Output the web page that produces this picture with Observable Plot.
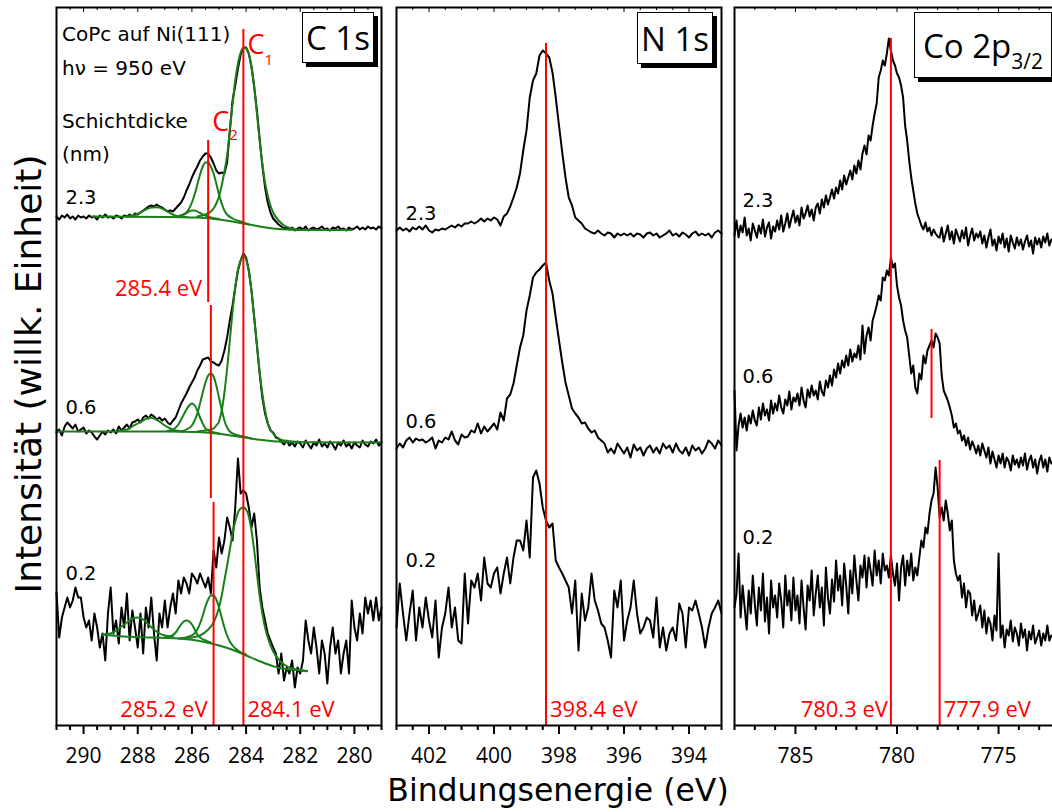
<!DOCTYPE html>
<html lang="de">
<head>
<meta charset="utf-8">
<title>XPS CoPc auf Ni(111)</title>
<script src="https://cdn.jsdelivr.net/npm/d3@7"></script>
<script src="https://cdn.jsdelivr.net/npm/@observablehq/plot@0.6"></script>
<style>
  html, body { margin: 0; padding: 0; background: #fff; }
  #fig { position: relative; width: 1052px; height: 812px; overflow: hidden; background: #fff; }
  #fig svg { position: absolute; top: 0; }
  .box { position: absolute; box-sizing: border-box; background: #fff; border: 1.5px solid #000;
         box-shadow: 4px 4px 0 #000; font-family: "Open Sans", sans-serif; font-size: 33px;
         line-height: 1; display: flex; align-items: center; justify-content: center; white-space: nowrap; }
  .box span { display: inline-block; }
  .box sub { font-size: 21px; vertical-align: -0.5em; line-height: 0; }
</style>
</head>
<body>
<div id="fig"></div>
<script>
const GREEN = "#1a7f1a", RED = "#ff0000";
const STEP = 0.1; // energy step of the scans (eV)

// ---------- C 1s : 291.0 -> 279.0 eV ----------
const c1sStart = 291.0;
const c1s_23 = [
  509,506,510,508,511,507,509,506,510,508,
  509,507,510,508,509,506,510,508,511,508,
  509,507,510,509,507,510,509,511,509,512,
  511,513,515,517,519,520,519,521,519,518,
  516,514,515,514,517,520,523,528,535,541,
  548,554,559,565,569,572,572,568,562,555,
  552,553,552,563,595,625,640,657,671,678,
  678,672,659,639,615,587,560,538,523,513,
  507,504,501,499,497,498,496,498,495,497,
  498,496,499,495,497,498,496,497,499,496,
  497,495,498,497,499,496,497,495,498,496,
  497,499,496,498,496,499,497,498,496,499,
  497];
const c1s_06 = [
  293,296,290,299,303,300,297,301,294,296,
  298,292,295,293,289,286,290,294,291,295,
  293,296,292,299,295,298,301,297,303,304,
  306,303,308,310,307,311,309,306,308,305,
  307,303,301,305,308,315,322,327,332,338,
  343,348,355,360,366,367,368,364,363,361,
  360,365,375,388,405,420,438,455,465,472,
  468,455,435,408,380,352,328,312,302,295,
  293,288,287,284,281,285,280,283,279,284,
  282,278,285,281,277,283,280,286,279,282,
  278,284,281,276,283,280,285,279,282,277,
  283,280,278,285,281,279,284,282,286,280,
  283];
const c1s_02 = [
  133,88,108,118,128,118,125,138,128,128,
  108,98,105,85,112,98,78,92,65,112,
  138,92,105,82,118,98,132,85,115,98,
  78,112,72,118,98,128,92,65,112,98,
  125,98,118,132,112,145,132,148,142,132,
  152,148,142,152,145,138,148,132,175,158,
  188,172,185,208,198,185,218,267,232,235,
  232,218,198,212,185,138,118,105,92,85,
  78,72,52,72,45,58,52,65,38,58,
  52,65,105,85,72,98,78,52,85,72,
  42,78,98,72,85,52,72,85,52,125,
  98,85,112,92,128,112,125,105,128,105,
  118];

// C 1s fit: background and components, [eV, intensity]
const fit23Bg = [[289.7,509],[287.0,508.5],[286.0,508],[285.5,507.5],[285.0,506],[284.5,504],[284.0,501.5],[283.5,499],[283.0,497],[282.5,496],[282.0,495.5],[280.1,495.5]];
const fit23C1 = [[285.8,509],[285.5,511],[285.3,514],[285.2,517],[285.1,522],[285.0,529],[284.9,540],[284.8,554],[284.7,570],[284.6,595],[284.5,621],[284.4,645],[284.3,662],[284.2,673],[284.1,678],[284.0,677],[283.9,672],[283.8,658],[283.7,638],[283.6,612],[283.5,585],[283.4,562],[283.3,543],[283.2,530],[283.1,520],[283.0,513],[282.8,505],[282.6,500],[282.3,497],[282.0,495.7]];
const fit23C2 = [[286.6,509],[286.4,510],[286.2,513],[286.1,517],[286.0,523],[285.9,531],[285.8,541],[285.7,551],[285.6,559],[285.5,563],[285.4,563],[285.3,559],[285.2,552],[285.1,542],[285.0,531],[284.9,522],[284.8,515],[284.7,511],[284.5,507],[284.2,504],[283.9,501]];
const fit23C3 = [[286.6,508.5],[286.4,510],[286.2,512.5],[286.0,515],[285.9,515],[285.7,512.5],[285.5,510],[285.3,508],[285.0,506.5]];
const fit23C4 = [[288.4,509],[288.1,510.5],[287.9,513],[287.7,516],[287.5,518],[287.3,518.3],[287.1,517],[286.9,514],[286.7,511],[286.5,509],[286.2,508.5]];

const fit06Bg = [[291.0,294],[287.0,294],[286.0,293.5],[285.5,293],[285.0,291.7],[284.5,289.7],[284.0,287.7],[283.5,285.7],[283.0,284.3],[282.5,283.7],[282.0,283.3],[279.0,283]];
const fit06C1 = [[285.8,294],[285.5,295],[285.3,296],[285.2,297],[285.1,300],[285.0,304],[284.9,315],[284.8,333],[284.7,357],[284.6,385],[284.5,414],[284.4,438],[284.3,456],[284.2,465],[284.1,470],[284.0,466],[283.9,455],[283.8,434],[283.7,408],[283.6,381],[283.5,354],[283.4,332],[283.3,315],[283.2,303],[283.1,296],[283.0,292],[282.8,287],[282.6,285],[282.3,284],[282.0,283.5]];
const fit06C2 = [[286.4,294],[286.2,296],[286.0,300],[285.9,305],[285.8,312],[285.7,322],[285.6,333],[285.5,343],[285.4,350],[285.3,352],[285.2,349],[285.1,340],[285.0,328],[284.9,316],[284.8,305],[284.7,298],[284.6,294],[284.4,291],[284.1,289],[283.8,287]];
const fit06C3 = [[286.9,294.5],[286.7,296],[286.5,301],[286.4,306],[286.3,311],[286.2,316],[286.1,320],[286.0,322],[285.9,320],[285.8,315],[285.7,308],[285.6,302],[285.5,297],[285.3,294],[285.0,292]];
const fit06C4 = [[288.7,294.5],[288.4,296],[288.2,299],[288.0,302],[287.8,305],[287.6,307.5],[287.5,307.7],[287.4,307],[287.2,304],[287.0,300],[286.8,297],[286.6,295],[286.3,294]];

const fit02Bg = [[289.3,90.7],[288.5,89],[287.5,88],[286.5,87],[286.0,85.7],[285.5,83.3],[285.0,80],[284.5,75.7],[284.0,70],[283.5,64.3],[283.0,59.3],[282.5,56.3],[282.0,55],[281.75,54.3]];
const fit02C1 = [[286.5,87],[286.0,88],[285.7,90],[285.4,96],[285.2,103],[285.0,118],[284.9,130],[284.8,145],[284.7,160],[284.6,176],[284.5,192],[284.4,204],[284.3,213],[284.2,217],[284.1,218],[284.0,216],[283.9,209],[283.8,195],[283.7,175],[283.6,152],[283.5,130],[283.4,112],[283.3,98],[283.2,88],[283.0,74],[282.8,66],[282.6,61],[282.3,57],[282.0,55.5],[281.75,54.5]];
const fit02C2 = [[286.4,87],[286.1,89],[285.9,92],[285.8,96],[285.7,102],[285.6,110],[285.5,119],[285.4,126],[285.3,130],[285.2,130],[285.1,126],[285.0,118],[284.9,108],[284.8,98],[284.7,90],[284.6,84],[284.5,80],[284.3,75],[284.0,71]];
const fit02C3 = [[287.0,88],[286.8,89],[286.6,93],[286.5,97],[286.4,101],[286.3,104],[286.2,105],[286.1,104],[286.0,101],[285.9,96],[285.8,91],[285.7,88],[285.5,85],[285.3,83]];
const fit02C4 = [[289.3,91],[289.0,92],[288.8,95],[288.6,99],[288.4,103],[288.2,107],[288.0,108],[287.8,106],[287.6,101],[287.4,96],[287.2,92],[287.0,90],[286.7,89]];

// ---------- N 1s : 403.0 -> 393.0 eV ----------
const n1sStart = 403.0;
const n1s_23 = [
  495,498,495,497,494,498,496,499,496,500,
  495,493,496,495,497,496,498,500,498,501,
  499,502,502,504,502,504,507,504,507,505,
  508,506,500,509,512,519,528,538,552,575,
  595,628,645,652,670,675,672,668,653,628,
  600,573,548,528,520,508,505,502,497,495,
  493,492,495,492,490,493,492,488,492,490,
  492,490,492,489,492,491,488,492,493,490,
  492,488,490,492,495,490,492,489,493,491,
  488,492,494,490,492,490,492,488,493,495,
  492];
const n1s_06 = [
  277,282,278,285,288,283,287,285,286,283,
  285,288,277,285,283,288,286,294,285,281,
  291,288,289,295,293,302,292,299,294,298,
  302,296,313,305,327,331,342,360,378,390,
  415,430,448,453,456,460,463,445,432,408,
  385,363,343,330,317,312,308,302,303,297,
  293,295,288,285,282,273,277,272,282,277,
  272,278,268,281,275,278,270,277,280,273,
  278,272,282,277,280,273,282,275,272,278,
  270,280,275,278,272,277,285,282,277,285,
  280];
const n1s_02 = [
  98,142,112,85,112,135,85,118,98,128,
  105,88,125,68,98,112,138,98,118,85,
  82,152,102,145,138,152,125,168,142,138,
  152,158,132,152,168,142,168,185,185,175,
  205,168,248,255,242,218,205,198,202,165,
  158,152,145,138,112,145,75,132,105,118,
  152,125,115,102,98,85,68,135,118,145,
  85,105,118,145,112,92,98,108,105,88,
  128,78,98,75,92,98,85,122,112,78,
  118,115,125,112,98,78,98,112,118,125,
  112];

// ---------- Co 2p3/2 : 788.0 -> 772.4 eV ----------
const coStart = 788.0;
const co_23 = [
  490,505,488,500,493,508,490,497,485,502,495,
  488,500,492,506,489,498,503,487,499,494,
  505,496,510,494,502,512,498,507,515,503,
  510,500,518,507,512,520,509,516,505,518,
  522,512,526,518,530,521,528,536,527,538,
  532,545,536,550,541,548,555,546,560,552,
  565,556,572,580,571,590,585,600,612,622,
  648,655,665,660,672,687,675,665,660,652,
  648,640,628,600,585,565,548,535,522,512,
  506,500,496,503,494,498,490,496,492,489,
  488,498,484,492,500,486,494,482,496,490,
  484,495,487,498,480,490,497,485,492,488,
  494,482,490,478,488,496,480,486,475,489,
  482,492,478,487,474,490,483,477,488,480,
  486,476,484,490,479,485,472,488,481,487,
  478,489,483,492,480,486];
const co_06 = [
  335,275,300,312,298,308,295,310,302,315,305,
  300,318,306,322,310,316,305,325,312,322,
  315,330,318,312,326,320,334,316,328,324,
  332,320,338,325,318,336,328,340,330,335,
  326,344,334,330,345,338,350,340,356,348,
  362,352,365,358,370,360,376,364,372,368,
  380,366,400,372,390,398,385,405,412,420,
  430,425,448,445,455,450,468,458,462,440,
  428,420,405,395,388,370,352,360,338,332,
  352,346,370,362,375,380,385,378,392,388,
  382,350,335,330,325,318,310,298,302,292,
  295,285,290,280,288,276,284,279,272,280,
  270,282,275,268,278,262,274,266,258,270,
  262,272,258,268,264,255,270,261,266,258,
  268,260,272,256,265,270,258,266,252,264,
  270,258,266,254,268,262];
const co_02 = [
  118,132,172,108,140,118,96,135,112,150,122,
  100,138,115,152,104,128,92,145,118,130,
  108,142,125,98,150,120,135,105,148,115,
  130,102,145,118,96,140,125,155,110,132,
  150,118,138,100,158,128,112,146,124,165,
  135,150,120,162,140,112,155,132,170,145,
  125,160,148,170,138,168,155,140,175,150,
  165,142,172,155,160,148,170,152,140,162,
  125,158,170,140,165,150,172,145,158,150,
  168,185,178,198,192,212,225,232,258,238,
  208,218,205,225,212,195,205,165,152,145,
  150,128,142,118,135,132,110,125,105,112,
  120,98,115,92,108,102,85,110,95,172,
  88,100,78,96,90,105,84,98,92,80,
  102,88,96,75,94,86,100,82,88,95,
  80,92,85,100,85,90];

// ---------- axes ----------
const c1sMajor = [290, 288, 286, 284, 282, 280];
const c1sMinor = [291, 290.5, 289.5, 289, 288.5, 287.5, 287, 286.5, 285.5, 285, 284.5, 283.5, 283, 282.5, 281.5, 281, 280.5, 279.5, 279];
const n1sMajor = [402, 400, 398, 396, 394];
const n1sMinor = [403, 402.5, 401.5, 401, 400.5, 399.5, 399, 398.5, 397.5, 397, 396.5, 395.5, 395, 394.5, 393.5, 393];
const coMajor = [785, 780, 775];
const coMinor = [788, 787, 786, 784, 783, 782, 781, 779, 778, 777, 776, 774, 773, 772];

const thickness = ["2.3", "0.6", "0.2"];

// ---------- helpers ----------
function scan(start, values, name) {
  return values.map((v, k) => ({e: +(start - k * STEP).toFixed(2), i: v, name}));
}
function pts(pairs, name) {
  return pairs.map(([e, i]) => ({e, i, name}));
}

const fig = document.getElementById("fig");
const W = 325, ML = 30, MR = 30, MT = 7, MB = 87, H = 718;

function panel(cfg) {
  const svg = Plot.plot({
    width: W + ML + MR, height: MT + H + MB,
    marginLeft: ML, marginRight: MR, marginTop: MT, marginBottom: MB,
    style: {fontFamily: "'Open Sans'", fontSize: "21px", background: "transparent", overflow: "visible", color: "#000"},
    x: {domain: cfg.domain, ticks: cfg.major, tickSize: 0, tickPadding: 23, tickFormat: d => String(d), label: null},
    y: {domain: [0, H], axis: null},
    marks: [
      Plot.ruleX(cfg.minor, {y1: 0, y2: -5, strokeWidth: 2}),
      Plot.ruleX(cfg.major, {y1: 0, y2: -9, strokeWidth: 2}),
      Plot.ruleX(cfg.minor, {y1: H, y2: H - 3, strokeWidth: 1}),
      Plot.ruleX(cfg.major, {y1: H, y2: H - 5, strokeWidth: 1}),
      Plot.line(cfg.spectra, {x: "e", y: "i", z: "name", stroke: "#000", strokeWidth: 2, strokeLinejoin: "round"}),
      Plot.line(cfg.fits || [], {x: "e", y: "i", z: "name", stroke: GREEN, strokeWidth: 2, curve: "monotone-x"}),
      Plot.ruleX(cfg.rules, {x: "e", y1: "i1", y2: "i2", stroke: RED, strokeWidth: 2}),
      Plot.text(cfg.values.filter(d => d.side === "end"), {x: "e", y: "i", text: "t", textAnchor: "end", dx: cfg.endDx, fill: RED, fontSize: 22}),
      Plot.text(cfg.values.filter(d => d.side === "start"), {x: "e", y: "i", text: "t", textAnchor: "start", dx: 4, fill: RED, fontSize: 22}),
      ...(cfg.extra || []),
      Plot.text(cfg.layers, {y: "i", text: "t", frameAnchor: "left", dx: cfg.layerDx, textAnchor: "start", fontFamily: "'DejaVu Sans'", fontSize: 19.5}),
      Plot.frame({strokeWidth: 2})
    ]
  });
  svg.style.left = (cfg.left - ML) + "px";
  fig.append(svg);
}

// C 1s
panel({
  left: 56, domain: [291, 279], major: c1sMajor, minor: c1sMinor,
  spectra: [...scan(c1sStart, c1s_23, "2.3"), ...scan(c1sStart, c1s_06, "0.6"), ...scan(c1sStart, c1s_02, "0.2")],
  fits: [
    ...pts(fit23Bg, "23bg"), ...pts(fit23C4, "23c4"), ...pts(fit23C3, "23c3"), ...pts(fit23C2, "23c2"), ...pts(fit23C1, "23c1"),
    ...pts(fit06Bg, "06bg"), ...pts(fit06C4, "06c4"), ...pts(fit06C3, "06c3"), ...pts(fit06C2, "06c2"), ...pts(fit06C1, "06c1"),
    ...pts(fit02Bg, "02bg"), ...pts(fit02C4, "02c4"), ...pts(fit02C3, "02c3"), ...pts(fit02C2, "02c2"), ...pts(fit02C1, "02c1")
  ],
  rules: [{e: 284.1, i1: 696, i2: 0}, {e: 285.4, i1: 585, i2: 423}, {e: 285.3, i1: 420, i2: 227}, {e: 285.2, i1: 223, i2: 0}],
  values: [{e: 285.4, i: 437, t: "285.4 eV", side: "end"}, {e: 285.2, i: 16, t: "285.2 eV", side: "end"}, {e: 284.1, i: 16, t: "284.1 eV", side: "start"}],
  endDx: -6,
  extra: [
    Plot.text([{e: 284.1, i: 680}, {e: 285.4, i: 603}], {x: "e", y: "i", text: () => "C", textAnchor: "start", dx: 4, fill: RED, fontSize: 27}),
    Plot.text([{e: 284.1, i: 665, t: "1"}, {e: 285.4, i: 590, t: "2"}], {x: "e", y: "i", text: "t", textAnchor: "start", dx: 21, fill: RED, fontSize: 15})
  ],
  layers: [{i: 528, t: thickness[0]}, {i: 318, t: thickness[1]}, {i: 152, t: thickness[2]}],
  layerDx: 9
});

// N 1s
panel({
  left: 395.5, domain: [403, 393], major: n1sMajor, minor: n1sMinor,
  spectra: [...scan(n1sStart, n1s_23, "2.3"), ...scan(n1sStart, n1s_06, "0.6"), ...scan(n1sStart, n1s_02, "0.2")],
  rules: [{e: 398.4, i1: 682, i2: 0}],
  values: [{e: 398.4, i: 16, t: "398.4 eV", side: "start"}],
  endDx: -4,
  layers: [{i: 512, t: thickness[0]}, {i: 304, t: thickness[1]}, {i: 165, t: thickness[2]}],
  layerDx: 9
});

// Co 2p3/2
panel({
  left: 734, domain: [788, 772], major: coMajor, minor: coMinor,
  spectra: [...scan(coStart, co_23, "2.3"), ...scan(coStart, co_06, "0.6"), ...scan(coStart, co_02, "0.2")],
  rules: [{e: 780.3, i1: 687, i2: 0}, {e: 778.3, i1: 396, i2: 307}, {e: 777.9, i1: 265, i2: 0}],
  values: [{e: 780.3, i: 16, t: "780.3 eV", side: "end"}, {e: 777.9, i: 16, t: "777.9 eV", side: "start"}],
  endDx: -3,
  layers: [{i: 525, t: thickness[0]}, {i: 349, t: thickness[1]}, {i: 188, t: thickness[2]}],
  layerDx: 8
});

// titles and sample annotation
const over = d3.create("svg").attr("width", 1052).attr("height", 812)
  .style("left", "0px").style("pointer-events", "none");
over.append("text").attr("x", 558).attr("y", 801).attr("text-anchor", "middle")
  .attr("font-family", "'DejaVu Sans'").attr("font-size", 31.5).text("Bindungsenergie (eV)");
over.append("text").attr("transform", "translate(41,374) rotate(-90)").attr("text-anchor", "middle")
  .attr("font-family", "'DejaVu Sans'").attr("font-size", 36).text("Intensität (willk. Einheit)");
const notes = [["CoPc auf Ni(111)", 41], ["hν = 950 eV", 75], ["Schichtdicke", 128], ["(nm)", 161]];
notes.forEach(([t, y]) => over.append("text").attr("x", 62).attr("y", y)
  .attr("font-family", "'DejaVu Sans'").attr("font-size", 20).text(t));
fig.append(over.node());

// core-level boxes
const boxes = [
  {html: "<span>C 1s</span>", left: 302, top: 12, w: 72, h: 51},
  {html: "<span>N 1s</span>", left: 637, top: 12, w: 76, h: 52},
  {html: "<span>Co 2p<sub>3/2</sub></span>", left: 914, top: 12, w: 138, h: 66}
];
boxes.forEach(b => {
  const d = document.createElement("div");
  d.className = "box";
  d.innerHTML = b.html;
  Object.assign(d.style, {left: b.left + "px", top: b.top + "px", width: b.w + "px", height: b.h + "px"});
  fig.append(d);
});
</script>
</body>
</html>
